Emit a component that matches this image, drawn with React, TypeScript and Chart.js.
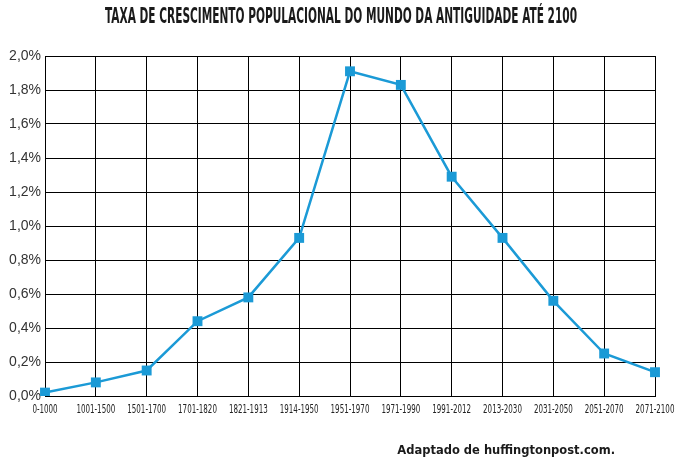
import React, { useEffect, useRef } from "react";
import { Chart, registerables } from "chart.js";

Chart.register(...registerables);

const categories = [
  "0-1000", "1001-1500", "1501-1700", "1701-1820", "1821-1913", "1914-1950",
  "1951-1970", "1971-1990", "1991-2012", "2013-2030", "2031-2050", "2051-2070", "2071-2100",
];
const growthRate = [0.02, 0.08, 0.15, 0.44, 0.58, 0.93, 1.91, 1.83, 1.29, 0.93, 0.56, 0.25, 0.14];
const titleText = "TAXA DE CRESCIMENTO POPULACIONAL DO MUNDO DA ANTIGUIDADE ATÉ 2100";
const sourceText = "Adaptado de huffingtonpost.com.";

const CONDENSED = "'DejaVu Sans Condensed', 'Liberation Sans Narrow', sans-serif";

const textPlugin = {
  id: "textPlugin",
  afterDraw(chart: any) {
    const ctx = chart.ctx;
    ctx.save();
    ctx.fillStyle = "#1a1a1a";
    ctx.textBaseline = "middle";
    // title, condensed to the reference width
    ctx.font = "bold 21px " + CONDENSED;
    const tw = ctx.measureText(titleText).width;
    const sx = Math.min(1, 472 / tw);
    ctx.save();
    ctx.translate(341, 18);
    ctx.scale(sx, 1);
    ctx.textAlign = "center";
    ctx.fillText(titleText, 0, 0);
    ctx.restore();
    // x tick labels (condensed) at the library's scale positions
    const xs = chart.scales.x;
    ctx.font = "12px " + CONDENSED;
    ctx.fillStyle = "#222";
    categories.forEach((c, i) => {
      const px = xs.getPixelForValue(i);
      ctx.save();
      ctx.translate(px, xs.top + 14);
      ctx.scale(0.66, 1);
      ctx.textAlign = "center";
      ctx.fillText(c, 0, 0);
      ctx.restore();
    });
    // source
    ctx.fillStyle = "#1a1a1a";
    ctx.textAlign = "right";
    ctx.font = "bold 11.5px 'DejaVu Sans', sans-serif";
    ctx.fillText(sourceText, 615, 451);
    ctx.restore();
  },
};

export default function App() {
  const ref = useRef<HTMLCanvasElement>(null);
  useEffect(() => {
    document.body.style.margin = "0";
    const chart = new Chart(ref.current!, {
      type: "line",
      data: {
        labels: categories,
        datasets: [
          {
            data: growthRate,
            borderColor: "#1b9ad6",
            backgroundColor: "#1b9ad6",
            borderWidth: 2.5,
            pointStyle: "rect",
            pointRadius: 7,
            pointBorderWidth: 0,
            tension: 0,
          },
        ],
      },
      options: {
        animation: false,
        responsive: false,
        layout: { padding: { top: 56, left: 0, right: 22, bottom: 37 } },
        plugins: { legend: { display: false }, title: { display: false }, tooltip: { enabled: false } },
        scales: {
          x: {
            offset: false,
            grid: { color: "#000", lineWidth: 1, drawTicks: false },
            border: { color: "#000", width: 1 },
            ticks: { display: false, autoSkip: false },
            afterFit: (s: any) => { s.height = 30; },
          },
          y: {
            min: 0,
            max: 2,
            grid: { color: "#000", lineWidth: 1, drawTicks: false },
            border: { color: "#000", width: 1 },
            ticks: {
              stepSize: 0.2,
              color: "#333",
              padding: 4,
              font: { family: "'Liberation Sans', Arial, sans-serif", size: 14 },
              callback: (v: any) => Number(v).toFixed(1).replace(".", ",") + "%",
            },
            afterFit: (s: any) => { s.width = 45; },
          },
        },
      },
      plugins: [textPlugin],
    });
    return () => chart.destroy();
  }, []);
  return <canvas ref={ref} width={677} height={463} style={{ display: "block" }} />;
}
